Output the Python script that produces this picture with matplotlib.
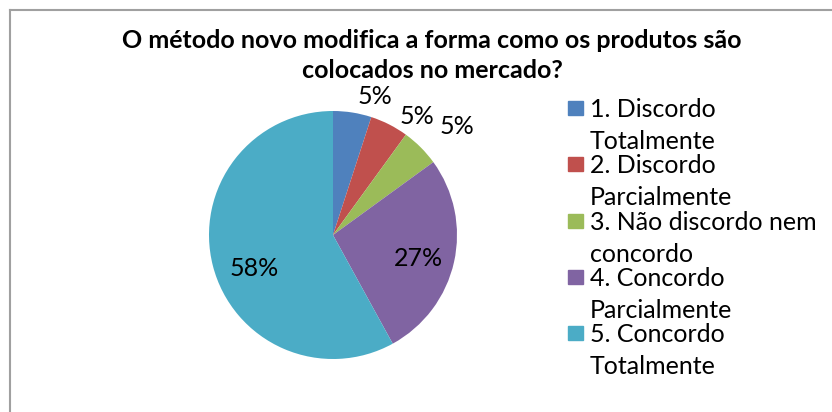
import numpy as np
import matplotlib
matplotlib.use("Agg")
import matplotlib.pyplot as plt
from matplotlib.patches import Rectangle
from matplotlib.lines import Line2D

# chart data
categories = ["1. Discordo\nTotalmente", "2. Discordo\nParcialmente",
              "3. Não discordo nem\nconcordo", "4. Concordo\nParcialmente",
              "5. Concordo\nTotalmente"]
values = [5, 5, 5, 27, 58]
colors = ["#4F81BD", "#C0504D", "#9BBB59", "#8064A2", "#4BACC6"]
title = "O método novo modifica a forma como os produtos são\ncolocados no mercado?"

plt.rcParams['font.family'] = ['Lato', 'DejaVu Sans']

W, H = 832, 412
fig = plt.figure(figsize=(W/100., H/100.), dpi=100)

def fy(py):
    # pixel row from top -> figure fraction
    return 1 - py/float(H)

# chart border (top and left only visible)
fig.add_artist(Line2D([10./W, 10./W], [0, fy(10)], color="#A0A0A0", lw=1.5))
fig.add_artist(Line2D([10./W, 1], [fy(10), fy(10)], color="#A0A0A0", lw=1.5))

for i, line in enumerate(title.split("\n")):
    fig.text(432./W, fy(48 + 30*i), line, ha="center", va="baseline",
             fontsize=18, fontweight="bold")

# pie axes, centre (333,235) radius 124 px
cx, cy, r = 333, 235, 124
ax = fig.add_axes([(cx - r)/float(W), (H - cy - r)/float(H), 2.*r/W, 2.*r/H])
wedges, texts, autotexts = ax.pie(values, colors=colors, startangle=90, counterclock=False,
                                  autopct="%d%%", radius=1,
                                  wedgeprops=dict(linewidth=0),
                                  textprops=dict(fontsize=18))
ax.set_xlim(-1, 1)
ax.set_ylim(-1, 1)
ax.set_aspect("equal")

# label placement (angle in degrees, distance in radii), best-fit style
placement = [(72.2, 1.11), (52.9, 1.12), (39.2, 1.29), (-20.0, 0.73), (207.4, 0.718)]
for t, (ang, d) in zip(autotexts, placement):
    t.set_clip_on(False)
    t.set_va("baseline")
    t.set_ha("center")
    t.set_position((d*np.cos(np.radians(ang)), d*np.sin(np.radians(ang))))

# legend drawn by hand: square next to first line of each entry
for i, (lab, c) in enumerate(zip(categories, colors)):
    base = 117 + i*56.3
    fig.add_artist(Rectangle((568./W, fy(base - 2)), 15./W, 14./H,
                             color=c, transform=fig.transFigure))
    for j, line in enumerate(lab.split("\n")):
        fig.text(590./W, fy(base + 32*j), line, ha="left", va="baseline",
                 fontsize=18)

plt.savefig("out.png", dpi=100)
